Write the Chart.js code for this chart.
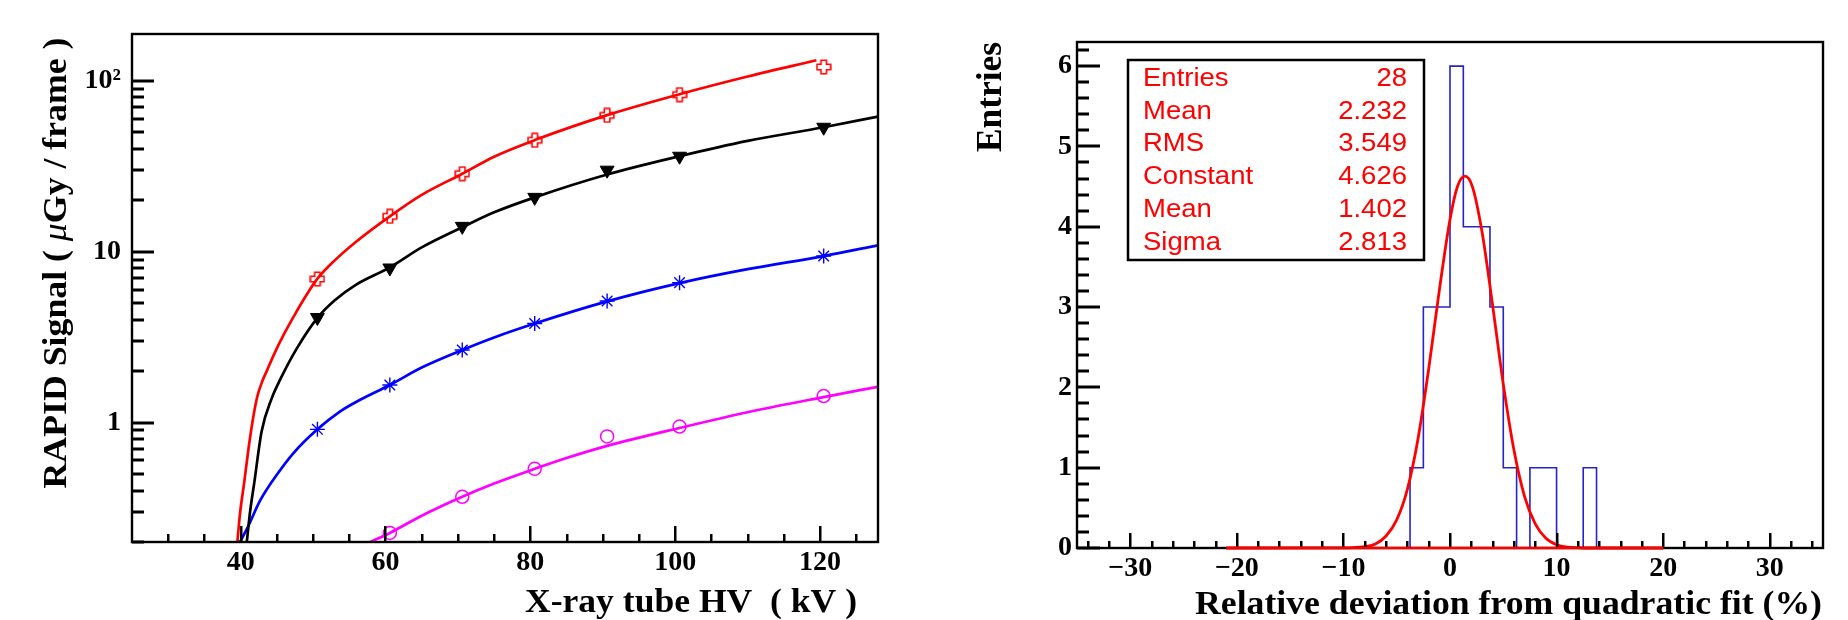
<!DOCTYPE html>
<html>
<head>
<meta charset="utf-8">
<script src="https://cdn.jsdelivr.net/npm/chart.js@4.4.1/dist/chart.umd.min.js"></script>
<style>
    html, body { margin: 0; padding: 0; background: #fff; }
    #wrap { position: relative; width: 1848px; height: 620px; }
    .half { position: absolute; top: 0; width: 924px; height: 620px; }
    #left-half { left: 0; }
    #right-half { left: 924px; }
</style>
</head>
<body>
<div id="wrap">
    <div class="half" id="left-half"><canvas id="signal-chart" width="924" height="620"></canvas></div>
    <div class="half" id="right-half"><canvas id="deviation-chart" width="924" height="620"></canvas></div>
</div>
<script>
// --- DATA: left panel (signal vs tube HV) ---
const hvPoints = [50.6, 60.6, 70.6, 80.6, 90.6, 100.6, 120.5];
const redSignal = [6.92, 16.1, 28.6, 44.9, 62.8, 83.0, 120.5];
const blackSignal = [4.12, 8.03, 14.07, 20.8, 30.0, 36.2, 53.5];
const blueSignal = [0.913, 1.66, 2.66, 3.80, 5.15, 6.59, 9.43];
const magentaHv = [60.6, 70.6, 80.6, 90.6, 100.6, 120.5];
const magentaSignal = [0.226, 0.368, 0.536, 0.830, 0.948, 1.43];

// fit curves
const redFitHv = [39.55, 39.9, 40.5, 41.1, 41.7, 42.3, 43.0, 43.6, 44.5, 46.0, 47.5, 49.0, 50.6, 53.0, 55.9, 60.6, 65.0, 70.6, 75.0, 80.6, 90.6, 100.6, 110.0, 119.5];
const redFitSignal = [0.2, 0.29, 0.45, 0.71, 1.05, 1.42, 1.75, 2.0, 2.45, 3.3, 4.3, 5.5, 6.95, 8.9, 11.4, 16.1, 21.5, 28.6, 36.0, 45.0, 63.0, 83.5, 106, 132];
const blackFitHv = [40.85, 41.3, 41.9, 42.9, 44.3, 45.5, 47.7, 50.6, 53.0, 55.9, 60.6, 65.0, 70.6, 75.0, 80.6, 90.6, 100.6, 110.0, 120.5, 128.0];
const blackFitSignal = [0.2, 0.3, 0.45, 0.89, 1.39, 1.8, 2.69, 4.1, 5.2, 6.4, 8.1, 10.6, 13.9, 17.0, 20.8, 28.3, 36.2, 44.5, 53.5, 61.8];
const blueFitHv = [39.9, 40.9, 42.7, 45.0, 47.3, 50.6, 53.7, 56.5, 60.6, 65.0, 70.6, 75.0, 80.6, 90.6, 100.6, 110.0, 120.5, 128.0];
const blueFitSignal = [0.2, 0.24, 0.35, 0.495, 0.663, 0.913, 1.16, 1.36, 1.66, 2.1, 2.66, 3.15, 3.8, 5.12, 6.55, 7.9, 9.43, 10.9];
const magentaFitHv = [57.9, 60.6, 65.0, 70.6, 75.0, 80.6, 85.0, 90.6, 100.6, 110.0, 120.5, 128.0];
const magentaFitSignal = [0.2, 0.226, 0.285, 0.368, 0.44, 0.536, 0.62, 0.73, 0.93, 1.15, 1.41, 1.62];

const hvTickValues = [40, 60, 80, 100, 120];
const signalTickValues = [1, 10, 100];
const signalTickLabels = ['1', '10', '10²'];

// --- DATA: right panel (deviation histogram) ---
const binStarts = [-3.75, -2.5, -1.25, 0, 1.25, 2.5, 3.75, 5, 6.25, 7.5, 8.75, 10, 11.25, 12.5];
const binCounts = [1, 3, 3, 6, 4, 4, 3, 1, 0, 1, 1, 0, 0, 1];
const binWidth = 1.25;
const gausX = [-21, -10, -9, -8, -7, -6, -5, -4, -3, -2, -1, 0, 0.7, 1.4, 2.1, 3, 4, 5, 6, 7, 8, 9, 10, 11, 12, 13, 20];
const gausY = [0, 0.001, 0.005, 0.017, 0.05, 0.15, 0.35, 0.73, 1.36, 2.23, 3.21, 4.09, 4.5, 4.63, 4.5, 3.94, 3.02, 2.04, 1.22, 0.64, 0.3, 0.12, 0.04, 0.01, 0.004, 0, 0];
const devTickValues = [-30, -20, -10, 0, 10, 20, 30];
const entryTickValues = [0, 1, 2, 3, 4, 5, 6];
const statNames = ['Entries', 'Mean', 'RMS', 'Constant', 'Mean', 'Sigma'];
const statValues = ['28', '2.232', '3.549', '4.626', '1.402', '2.813'];

// --- HELPERS ---
const serif = '"Liberation Serif", "Times New Roman", serif';
const sans = '"Liberation Sans", Arial, sans-serif';
const tickFont = { family: serif, size: 28, weight: 'bold' };

const pairs = (xs, ys) => xs.map((x, i) => ({ x, y: ys[i] }));

function histOutline(starts, counts, w) {
    const pts = [];
    let prev = 0;
    starts.forEach((x0, i) => {
        const c = counts[i];
        if (prev !== c) pts.push({ x: x0, y: prev }, { x: x0, y: c });
        if (c > 0) pts.push({ x: x0 + w, y: c });
        else if (prev > 0) pts.push({ x: x0, y: null });
        prev = c;
    });
    if (prev > 0) pts.push({ x: starts[starts.length - 1] + w, y: 0 });
    return pts;
}

function openCross(color, size) {
    const c = document.createElement('canvas');
    c.width = c.height = size;
    const g = c.getContext('2d');
    const m = size / 2, h = size / 2 - 1.2, w = size * 0.17;
    g.strokeStyle = color;
    g.lineWidth = 1.6;
    g.beginPath();
    g.moveTo(m - w, m - h); g.lineTo(m + w, m - h); g.lineTo(m + w, m - w);
    g.lineTo(m + h, m - w); g.lineTo(m + h, m + w); g.lineTo(m + w, m + w);
    g.lineTo(m + w, m + h); g.lineTo(m - w, m + h); g.lineTo(m - w, m + w);
    g.lineTo(m - h, m + w); g.lineTo(m - h, m - w); g.lineTo(m - w, m - w);
    g.closePath();
    g.stroke();
    return c;
}

// text runs, right-aligned so they end at (x, y), stretched to a length
function drawTitle(ctx, runs, x, y, length, rotate) {
    ctx.save();
    ctx.translate(x, y);
    if (rotate) ctx.rotate(-Math.PI / 2);
    let natural = 0;
    runs.forEach(r => { ctx.font = r.font; natural += ctx.measureText(r.text).width; });
    ctx.scale(length / natural, 1);
    ctx.fillStyle = '#000';
    ctx.textAlign = 'left';
    ctx.textBaseline = 'alphabetic';
    let pos = -natural;
    runs.forEach(r => {
        ctx.font = r.font;
        ctx.fillText(r.text, pos, 0);
        pos += ctx.measureText(r.text).width;
    });
    ctx.restore();
}

function stretchText(ctx, text, x, y, align, sx) {
    ctx.save();
    ctx.translate(x, y);
    ctx.scale(sx, 1);
    ctx.textAlign = align;
    ctx.fillText(text, 0, 0);
    ctx.restore();
}

// ROOT-like frame with inward ticks (drawn as thin filled bars)
function rootFrame(spec) {
    return {
        id: 'rootFrame',
        afterDatasetsDraw(chart) {
            const ctx = chart.ctx;
            const a = chart.chartArea;
            const xs = chart.scales.x, ys = chart.scales.y;
            ctx.save();
            ctx.fillStyle = '#000000';
            spec.xTicks.forEach(t => t.values.forEach(v => {
                const px = xs.getPixelForValue(v);
                ctx.fillRect(Math.round(px) - 1, a.bottom - t.len, 2.5, t.len);
            }));
            spec.yTicks.forEach(t => t.values.forEach(v => {
                const py = ys.getPixelForValue(v);
                ctx.fillRect(a.left, Math.round(py) - 1.5, t.len, 3);
            }));
            ctx.strokeStyle = '#000000';
            ctx.lineWidth = 2.4;
            ctx.strokeRect(a.left, a.top, a.right - a.left, a.bottom - a.top);
            ctx.restore();
            if (spec.overlay) spec.overlay(chart);
        },
        afterDraw(chart) {
            const { ctx, chartArea: a } = chart;
            const xt = spec.xTitle, yt = spec.yTitle;
            drawTitle(ctx, xt.runs, a.right + xt.dx, a.bottom + xt.dy, xt.length, false);
            drawTitle(ctx, yt.runs, a.left + yt.dx, a.top + yt.dy, yt.length, true);
            if (spec.extra) spec.extra(chart);
        }
    };
}

function baseOptions(pad, yWidth, xHeight) {
    return {
        responsive: false,
        animation: false,
        layout: { padding: pad, autoPadding: false },
        plugins: { legend: { display: false }, tooltip: { enabled: false } },
        scales: {
            x: {
                type: 'linear',
                grid: { display: false, drawTicks: false },
                border: { display: false },
                afterFit: s => { s.height = xHeight; },
                ticks: { font: tickFont, color: '#000', padding: 4, maxRotation: 0, autoSkip: false }
            },
            y: {
                grid: { display: false, drawTicks: false },
                border: { display: false },
                afterFit: s => { s.width = yWidth; },
                ticks: { font: tickFont, color: '#000', autoSkip: false }
            }
        }
    };
}

// --- LEFT CHART ---
function renderSignalChart() {
    const opts = baseOptions({ top: 34, right: 46, left: 0, bottom: 0 }, 132, 78);
    Object.assign(opts.scales.x, {
        min: 25, max: 128,
        afterBuildTicks: s => { s.ticks = hvTickValues.map(v => ({ value: v })); }
    });
    Object.assign(opts.scales.y, {
        type: 'logarithmic', min: 0.2, max: 188,
        afterBuildTicks: s => { s.ticks = signalTickValues.map(v => ({ value: v })); }
    });
    opts.scales.y.ticks.padding = 11;
    opts.scales.y.ticks.callback = v => {
        const i = signalTickValues.indexOf(v);
        return i >= 0 ? signalTickLabels[i] : '';
    };

    const curve = (xs, ys, color) => ({
        data: pairs(xs, ys), borderColor: color, borderWidth: 2.7, pointRadius: 0,
        cubicInterpolationMode: 'monotone', order: 2
    });
    const marks = (xs, ys, style) => Object.assign({
        data: pairs(xs, ys), showLine: false, order: 0
    }, style);

    const minorHv = [];
    for (let v = 30; v <= 125; v += 5) if (v % 20 !== 0) minorHv.push(v);
    const minorSig = [];
    [0.1, 1, 10].forEach(d => { for (let k = 2; k <= 9; k++) if (k * d >= 0.2 && k * d <= 188) minorSig.push(k * d); });

    new Chart(document.getElementById('signal-chart'), {
        type: 'line',
        data: {
            datasets: [
                marks(hvPoints, redSignal, { pointStyle: openCross('#ff0000', 16), pointRadius: 8 }),
                marks(hvPoints, blackSignal, { pointStyle: 'triangle', rotation: 180, pointRadius: 8, backgroundColor: '#000', borderColor: '#000', borderWidth: 1 }),
                marks(hvPoints, blueSignal, { pointStyle: 'star', pointRadius: 7.5, borderColor: '#0000ff', borderWidth: 1.4 }),
                marks(magentaHv, magentaSignal, { pointStyle: 'circle', pointRadius: 6.5, backgroundColor: 'rgba(0,0,0,0)', borderColor: '#ff00ff', borderWidth: 1.5 }),
                curve(redFitHv, redFitSignal, '#ff0000'),
                curve(blackFitHv, blackFitSignal, '#000000'),
                curve(blueFitHv, blueFitSignal, '#0000ff'),
                curve(magentaFitHv, magentaFitSignal, '#ff00ff')
            ]
        },
        options: opts,
        plugins: [rootFrame({
            xTicks: [{ values: hvTickValues, len: 16 }, { values: minorHv, len: 8 }],
            yTicks: [{ values: signalTickValues, len: 22 }, { values: minorSig, len: 12 }],
            xTitle: { runs: [{ text: 'X-ray tube HV  ( kV )', font: `bold 34px ${serif}` }], dx: -21, dy: 70, length: 332 },
            yTitle: {
                runs: [
                    { text: 'RAPID Signal ( ', font: `bold 33px ${serif}` },
                    { text: 'μ', font: `italic 33px ${serif}` },
                    { text: 'Gy / frame )', font: `bold 33px ${serif}` }
                ],
                dx: -66, dy: 3.5, length: 451
            }
        })]
    });
}

// --- RIGHT CHART ---
function renderDeviationChart() {
    const opts = baseOptions({ top: 42, right: 25, left: 0, bottom: 0 }, 153, 72);
    Object.assign(opts.scales.x, {
        min: -35, max: 35,
        afterBuildTicks: s => { s.ticks = devTickValues.map(v => ({ value: v })); }
    });
    opts.scales.x.ticks.callback = v => (v < 0 ? '\u2212' + Math.abs(v) : String(v));
    Object.assign(opts.scales.y, {
        type: 'linear', min: 0, max: 6.3,
        afterBuildTicks: s => { s.ticks = entryTickValues.map(v => ({ value: v })); }
    });
    opts.scales.y.ticks.padding = 5;

    const minorDev = [];
    for (let v = -34; v <= 34; v += 2) if (v % 10 !== 0) minorDev.push(v);
    const minorEntry = [];
    for (let i = 1; i <= 31; i++) if (i % 5 !== 0) minorEntry.push(i / 5);

    const gaussSet = {
        data: pairs(gausX, gausY), borderColor: '#ff0000', borderWidth: 2.8, pointRadius: 0,
        cubicInterpolationMode: 'monotone', order: 0, clip: 4
    };

    new Chart(document.getElementById('deviation-chart'), {
        type: 'line',
        data: {
            datasets: [
                gaussSet,
                {
                    data: histOutline(binStarts, binCounts, binWidth), borderColor: '#2424c8', borderWidth: 1.6,
                    pointRadius: 0, spanGaps: false, tension: 0, order: 1
                }
            ]
        },
        options: opts,
        plugins: [rootFrame({
            xTicks: [{ values: devTickValues, len: 15 }, { values: minorDev, len: 7 }],
            yTicks: [{ values: entryTickValues, len: 23 }, { values: minorEntry, len: 12 }],
            // red fit runs over the bottom axis line, as in the original
            overlay(chart) {
                const { ctx, chartArea: a } = chart;
                const xs = chart.scales.x;
                const x0 = xs.getPixelForValue(gausX[0]);
                const x1 = xs.getPixelForValue(gausX[gausX.length - 1]);
                ctx.save();
                ctx.strokeStyle = '#ff0000';
                ctx.lineWidth = 2.4;
                ctx.beginPath();
                ctx.moveTo(x0, a.bottom);
                ctx.lineTo(x1, a.bottom);
                ctx.stroke();
                ctx.restore();
            },
            xTitle: { runs: [{ text: 'Relative deviation from quadratic fit (%)', font: `bold 34px ${serif}` }], dx: -1, dy: 66, length: 627 },
            yTitle: { runs: [{ text: 'Entries', font: `bold 36px ${serif}` }], dx: -76, dy: 0, length: 110 },
            extra(chart) {
                const { ctx, chartArea: a } = chart;
                const bx = a.left + 51, by = a.top + 18, bw = 296, bh = 200;
                ctx.save();
                ctx.fillStyle = '#fff';
                ctx.fillRect(bx, by, bw, bh);
                ctx.strokeStyle = '#000';
                ctx.lineWidth = 2.5;
                ctx.strokeRect(bx, by, bw, bh);
                ctx.fillStyle = '#ff0000';
                ctx.font = `25px ${sans}`;
                ctx.textBaseline = 'alphabetic';
                statNames.forEach((name, i) => {
                    const y = by + 26 + i * 32.7;
                    stretchText(ctx, name, bx + 15, y, 'left', 1.1);
                    stretchText(ctx, statValues[i], bx + bw - 17, y, 'right', 1.1);
                });
                ctx.restore();
            }
        })]
    });
}

renderSignalChart();
renderDeviationChart();
</script>
</body>
</html>
